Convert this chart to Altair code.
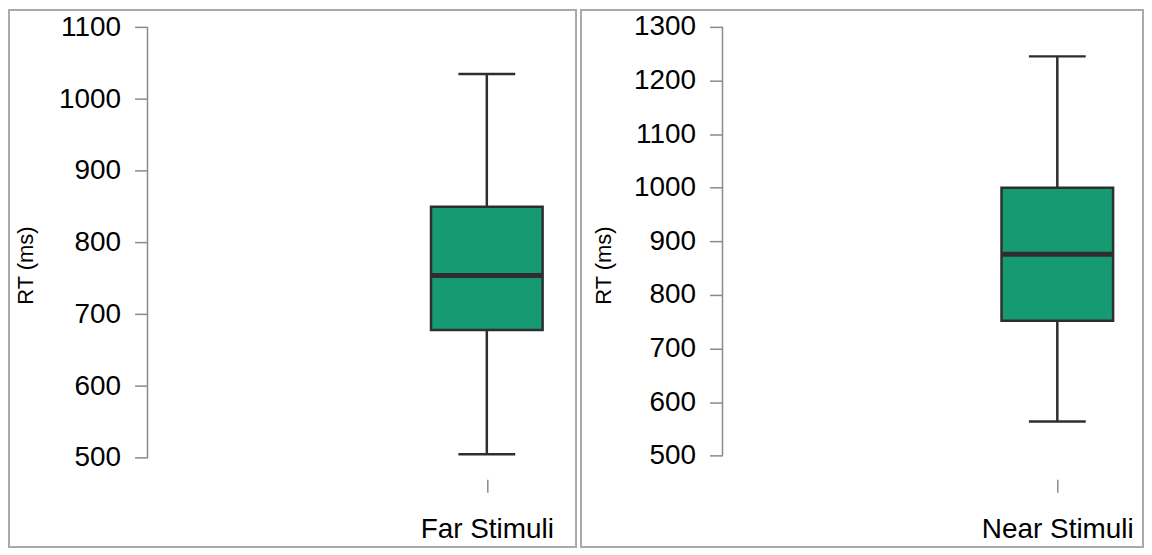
import altair as alt
import pandas as pd

# ---- data ----
categories = ["Far Stimuli", "Near Stimuli"]
whisker_low = [505, 564]
q1 = [678, 752]
median = [754, 876]
q3 = [850, 1000]
whisker_high = [1035, 1245]
tick_min = [500, 500]
tick_max = [1100, 1300]

df = pd.DataFrame(dict(category=categories, low=whisker_low, q1=q1,
                       median=median, q3=q3, high=whisker_high))

FONT = "Liberation Sans"
BOX_FILL = "#169a72"
DARK = "#2e2e2e"
AXIS_GRAY = "#8a8a8a"
LABEL_SIZE = 28


def panel(i, width, height, align, ydomain, axis_x, title_x, title_y):
    d = df.iloc[[i]]
    ticks = list(range(tick_min[i], tick_max[i] + 1, 100))

    x_scale = alt.Scale(type="point", align=align, domain=[categories[i]])
    x_axis = alt.Axis(orient="bottom", offset=-68, domain=False, tickSize=13,
                      tickColor=AXIS_GRAY, tickWidth=1.5, labelFontSize=28,
                      labelPadding=23, labelAngle=0, labelColor="black",
                      labelFont=FONT, grid=False)
    y_scale = alt.Scale(domain=ydomain, nice=False, zero=False)
    y_axis = alt.Axis(orient="left", offset=-axis_x, domain=False, values=ticks,
                      format="d", tickSize=13, tickColor=AXIS_GRAY, tickWidth=1.5,
                      labelFontSize=LABEL_SIZE, labelPadding=14, labelColor="black",
                      labelFont=FONT, grid=False, title="RT (ms)",
                      titleFont=FONT, titleFontSize=22, titleFontWeight="normal",
                      titleColor="black", titleX=title_x, titleY=title_y,
                      titleBaseline="middle", titleAngle=270)

    def X():
        return alt.X("category:N", scale=x_scale, axis=x_axis, title=None)

    def Y(field):
        return alt.Y(field, type="quantitative", scale=y_scale, axis=y_axis,
                     title="RT (ms)")

    base = alt.Chart(d)
    axis_line = base.mark_rule(color=AXIS_GRAY, strokeWidth=1.5).encode(
        x=alt.value(axis_x), y=alt.datum(tick_min[i]), y2=alt.datum(tick_max[i]))
    whisker = base.mark_rule(color=DARK, strokeWidth=2.5).encode(
        x=X(), y=Y("low"), y2="high:Q")
    box = base.mark_bar(size=112, fill=BOX_FILL, stroke=DARK, strokeWidth=2.5).encode(
        x=X(), y=Y("q1"), y2="q3:Q")
    med = base.mark_tick(orient="horizontal", size=113, thickness=5, color=DARK,
                         opacity=1).encode(x=X(), y=Y("median"))
    cap_lo = base.mark_tick(orient="horizontal", size=57, thickness=2.5, color=DARK,
                            opacity=1).encode(x=X(), y=Y("low"))
    cap_hi = base.mark_tick(orient="horizontal", size=57, thickness=2.5, color=DARK,
                            opacity=1).encode(x=X(), y=Y("high"))

    return alt.layer(axis_line, whisker, box, med, cap_lo, cap_hi).properties(
        width=width, height=height)


left = panel(0, 569, 539, 479.5 / 569, [375.6, 1124.2], 139, -122, 256)
right = panel(1, 564, 539, 478 / 564, [329.7, 1331.6], 142, -119, 256)

chart = alt.hconcat(left, right, spacing=3).properties(
    padding=0
).configure(font=FONT).configure_view(
    stroke="#aaaaaa", strokeWidth=2
)

chart.save("out.html", embed_options={"renderer": "svg", "actions": False})
